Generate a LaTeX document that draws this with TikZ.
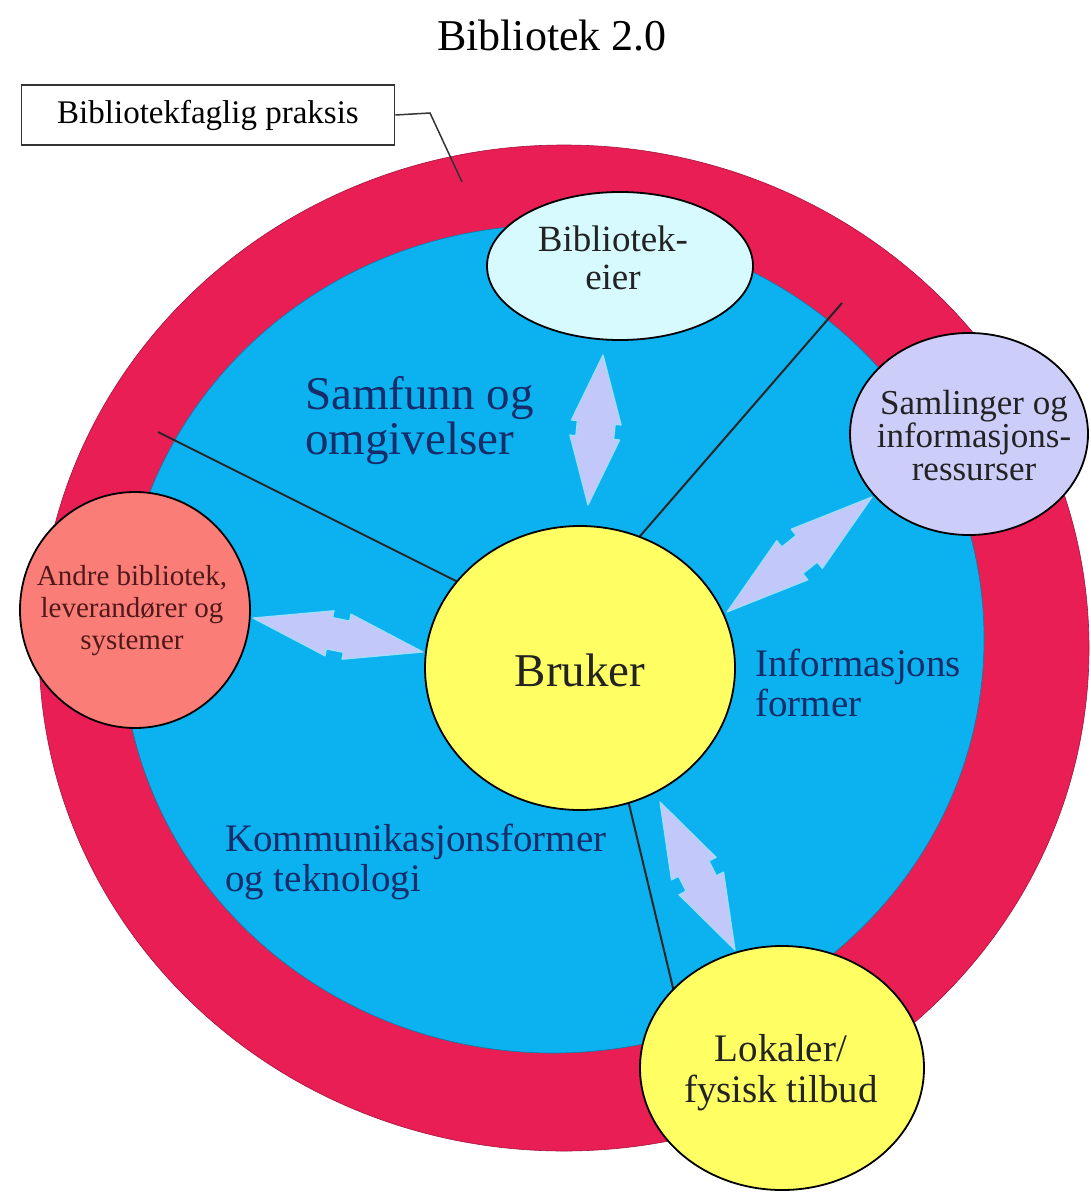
\documentclass[tikz,border=0pt]{standalone}
\usepackage{fontspec}
\setmainfont{Liberation Serif}
\usetikzlibrary{shapes.geometric,calc}
\definecolor{redband}{RGB}{232,30,85}
\definecolor{bluefill}{RGB}{12,178,240}
\definecolor{eierfill}{RGB}{215,250,255}
\definecolor{samlfill}{RGB}{205,205,250}
\definecolor{andrefill}{RGB}{250,125,120}
\definecolor{yellowfill}{RGB}{255,255,100}
\definecolor{arrfill}{RGB}{195,200,250}
\definecolor{arredge}{RGB}{160,222,250}
\definecolor{navy}{RGB}{22,45,105}
\definecolor{darktext}{RGB}{35,35,35}
\definecolor{andretext}{RGB}{80,25,25}
\tikzset{
  bubble/.style={ellipse,draw=black,line width=1.8pt,inner sep=0pt},
  bubbletext/.style={text=darktext,align=center,inner sep=0pt},
  zonetext/.style={text=navy,align=left,inner sep=0pt,anchor=west},
  radial/.style={draw=black!85,line width=2pt},
  arrowsty/.style={fill=arrfill,draw=arredge,line width=1.2pt,line join=round}
}
\newcommand\dblarr[4]{%
  \filldraw[arrowsty] (#1)
  -- ($(#1)!0.45!(#2)!#3!90:(#2)$)
  -- ($(#1)!0.45!(#2)!#4!90:(#2)$)
  -- ($(#1)!0.55!(#2)!#4!90:(#2)$)
  -- ($(#1)!0.55!(#2)!#3!90:(#2)$)
  -- (#2)
  -- ($(#1)!0.55!(#2)!#3!-90:(#2)$)
  -- ($(#1)!0.55!(#2)!#4!-90:(#2)$)
  -- ($(#1)!0.45!(#2)!#4!-90:(#2)$)
  -- ($(#1)!0.45!(#2)!#3!-90:(#2)$)
  -- cycle;}
\begin{document}
\begin{tikzpicture}[x=1pt,y=-1pt]
\useasboundingbox (0,0) rectangle (1090,1193);
\fill[white] (0,0) rectangle (1090,1193);

% title
\node[font={\fontsize{44}{48}\selectfont}] (title) at (552,36) {Bibliotek 2.0};

% outer band and inner area
\node[ellipse,fill=redband,draw=redband!70!black,line width=0.6pt,minimum width=1050pt,minimum height=1006pt,inner sep=0pt] (outer) at (564,648) {};
\node[ellipse,fill=bluefill,draw=bluefill!70!black,line width=0.6pt,minimum width=862pt,minimum height=828pt,inner sep=0pt] (inner) at (553,639) {};

% practice label box and leader
\node[draw=black!80,line width=1.8pt,minimum width=373pt,minimum height=60pt,inner sep=0pt,font={\fontsize{33}{36}\selectfont}] (praksis) at (208,115) {Bibliotekfaglig praksis};
\coordinate (lead1) at (430,113);
\coordinate (lead2) at (462,182);
\draw[line width=1.5pt,black!80] (praksis.east) -- (lead1) -- (lead2);

% radial dividing lines
\coordinate (r1a) at (158,432);
\coordinate (r1b) at (458,582);
\coordinate (r2a) at (842,303);
\coordinate (r2b) at (628,550);
\coordinate (r3a) at (628,800);
\coordinate (r3b) at (674,992);
\draw[radial] (r1a) -- (r1b);
\draw[radial] (r2a) -- (r2b);
\draw[radial] (r3a) -- (r3b);

% double arrows
\coordinate (a1s) at (603,355);
\coordinate (a1e) at (588,505);
\coordinate (a2s) at (253,618);
\coordinate (a2e) at (423,652);
\coordinate (a3s) at (872,497);
\coordinate (a3e) at (727,612);
\coordinate (a4s) at (660,802);
\coordinate (a4e) at (735,950);
\dblarr{a1s}{a1e}{25pt}{19pt}
\dblarr{a2s}{a2e}{23pt}{16pt}
\dblarr{a3s}{a3e}{25pt}{17pt}
\dblarr{a4s}{a4e}{25pt}{17pt}

% bubbles
\node[bubble,fill=eierfill,minimum width=266pt,minimum height=148pt] (eier) at (620,266) {};
\node[bubbletext,font={\fontsize{37}{38}\selectfont}] (eiertxt) at (613,258) {Bibliotek-\\eier};

\node[bubble,fill=samlfill,minimum width=238pt,minimum height=202pt] (saml) at (969,434) {};
\node[bubbletext,font={\fontsize{35}{33}\selectfont}] (samltxt) at (974,436) {Samlinger og\\informasjons-\\ressurser};

\node[bubble,fill=andrefill,minimum width=230pt,minimum height=236pt] (andre) at (135,610) {};
\node[bubbletext,text=andretext,font={\fontsize{29}{32}\selectfont}] (andretxt) at (132,611) {Andre bibliotek,\\leverandører og\\systemer};

\node[bubble,fill=yellowfill,minimum width=310pt,minimum height=284pt] (bruker) at (580,668) {};
\node[bubbletext,font={\fontsize{47}{50}\selectfont}] (brukertxt) at (580,670) {Bruker};

\node[bubble,fill=yellowfill,minimum width=284pt,minimum height=244pt] (lokaler) at (782,1068) {};
\node[bubbletext,font={\fontsize{39}{41}\selectfont}] (lokalertxt) at (781,1073) {Lokaler/\\fysisk tilbud};

% zone labels
\node[zonetext,font={\fontsize{47}{45}\selectfont}] (samfunn) at (305,421) {Samfunn og\\omgivelser};
\node[zonetext,font={\fontsize{39}{40}\selectfont}] (infoform) at (755,683) {Informasjons\\former};
\node[zonetext,font={\fontsize{39}{40}\selectfont}] (komm) at (225,862) {Kommunikasjonsformer\\og teknologi};
\end{tikzpicture}
\end{document}
